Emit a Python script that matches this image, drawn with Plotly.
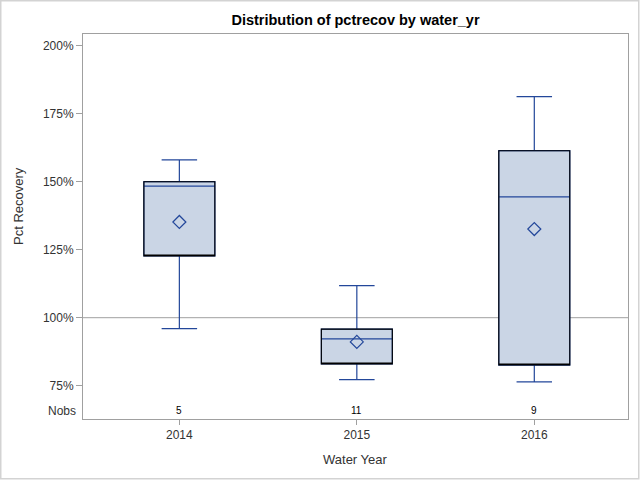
import plotly.graph_objects as go

years = ["2014", "2015", "2016"]
nobs = [5, 11, 9]
q1 = [122.7, 83.0, 82.6]
median = [148.4, 92.2, 144.4]
q3 = [150.0, 95.8, 161.4]
low_whisker = [96.0, 77.2, 76.4]
high_whisker = [158.0, 111.8, 181.3]
means = [135.2, 91.1, 132.6]
y_ticks = [75, 100, 125, 150, 175, 200]
ref_value = 100

BLUE = "#23479A"
FILL = "#CAD5E5"
GRAY = "#A0A0A0"
FONT = "Liberation Sans, Arial, sans-serif"

W, H = 640, 480
l, r, t, b = 83, 12, 34, 61
pw, ph = W - l - r, H - t - b


def px_x(x):
    return (x - l) / pw


def px_y(y):
    return (H - b - y) / ph


fig = go.Figure()

# blue whiskers, median, filled box
fig.add_trace(go.Box(
    x=years, q1=q1, median=median, q3=q3,
    lowerfence=low_whisker, upperfence=high_whisker,
    fillcolor=FILL, line=dict(color=BLUE, width=1.2), width=0.4,
    whiskerwidth=0.5, boxpoints=False, hoverinfo="skip", showlegend=False,
))
# black box outline on top
fig.add_trace(go.Box(
    x=years, q1=q1, median=q1, q3=q3,
    lowerfence=q1, upperfence=q3,
    fillcolor="rgba(0,0,0,0)", line=dict(color="black", width=1.1), width=0.4,
    whiskerwidth=0, boxpoints=False, hoverinfo="skip", showlegend=False,
))
# mean markers
fig.add_trace(go.Scatter(
    x=years, y=means, mode="markers",
    marker=dict(symbol="diamond-open", size=10, color=BLUE, line=dict(width=1.2, color=BLUE)),
    showlegend=False, hoverinfo="skip",
))

fig.add_hline(y=ref_value, line=dict(color=GRAY, width=1), layer="below")

# Nobs row
for i, n in enumerate(nobs):
    fig.add_annotation(x=i, y=65.8, xref="x", yref="y", text=str(n), showarrow=False,
                       font=dict(family=FONT, size=10, color="black"))
fig.add_annotation(x=0, y=65.8, xref="paper", yref="y", text="Nobs", showarrow=False,
                   xanchor="right", xshift=-5, font=dict(family=FONT, size=12, color="#333333"))

# axis titles
fig.add_annotation(x=px_x(18), y=px_y(206), xref="paper", yref="paper", text="Pct Recovery",
                   textangle=-90, showarrow=False, xanchor="center", yanchor="middle",
                   font=dict(family=FONT, size=13, color="#333333"))
fig.add_annotation(x=0.5, y=px_y(459), xref="paper", yref="paper", text="Water Year",
                   showarrow=False, xanchor="center", yanchor="middle",
                   font=dict(family=FONT, size=13, color="#333333"))

# outer border
fig.add_shape(type="rect", xref="paper", yref="paper",
              x0=px_x(0.75), x1=px_x(W - 1.25),
              y0=px_y(H - 1.25), y1=px_y(0.75),
              line=dict(color="#D3D3D3", width=1.5), fillcolor="rgba(0,0,0,0)", layer="below")

fig.update_layout(
    width=W, height=H,
    margin=dict(l=l, r=r, t=t, b=b),
    paper_bgcolor="white", plot_bgcolor="white",
    boxmode="overlay", boxgap=0.6, boxgroupgap=0,
    title=dict(text="<b>Distribution of pctrecov by water_yr</b>", x=(l + pw / 2) / W, xanchor="center",
               y=1 - 20 / H, yanchor="middle", font=dict(family=FONT, size=14.5, color="black")),
    font=dict(family=FONT, size=12, color="#333333"),
)
fig.update_xaxes(
    type="category", range=[-0.543, 2.528],
    showline=True, mirror=True, linecolor=GRAY, linewidth=1,
    ticks="outside", ticklen=5, tickcolor=GRAY, showgrid=False,
    tickfont=dict(family=FONT, size=12, color="#333333"),
)
fig.update_yaxes(
    range=[62.76, 204.3], tickvals=y_ticks, ticktext=[f"{v}%" for v in y_ticks],
    showline=True, mirror=True, linecolor=GRAY, linewidth=1,
    ticks="outside", ticklen=6, tickcolor=GRAY, showgrid=False, zeroline=False,
    tickfont=dict(family=FONT, size=12, color="#333333"),
)

fig.write_html("out.html", config={"displayModeBar": False},
               post_script="document.body.style.margin='0';document.body.style.overflow='hidden';")
